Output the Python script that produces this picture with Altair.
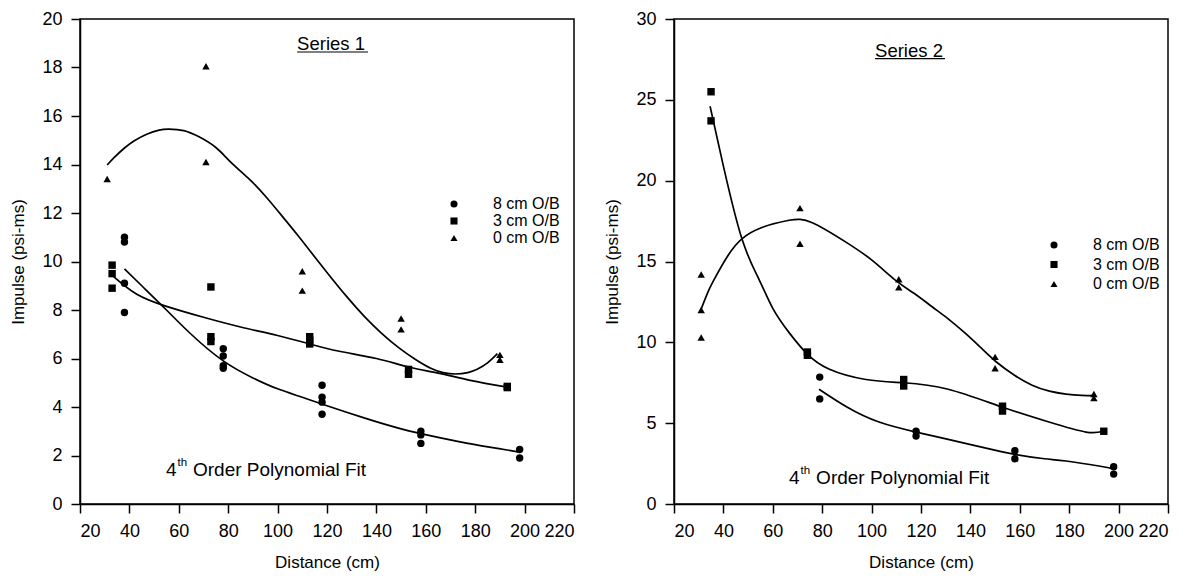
import altair as alt
import pandas as pd

FONT = "Liberation Sans"

SERIES = ["8 cm O/B", "3 cm O/B", "0 cm O/B"]
SHAPES = ["circle", "square", "triangle-up"]
X_TICKS = [20, 40, 60, 80, 100, 120, 140, 160, 180, 200, 220]

# ---------------- Series 1 (left panel) ----------------
L8_x = [38, 38, 38, 38, 78, 78, 78, 78, 118, 118, 118, 118, 158, 158, 158, 198, 198]
L8_y = [11.0, 10.8, 9.1, 7.9, 6.4, 6.1, 5.7, 5.6, 4.9, 4.4, 4.2, 3.7, 3.0, 2.85, 2.5, 2.25, 1.9]
L3_x = [33, 33, 33, 73, 73, 73, 113, 113, 113, 153, 153, 193, 193]
L3_y = [9.85, 9.5, 8.9, 8.95, 6.9, 6.7, 6.9, 6.75, 6.6, 5.55, 5.35, 4.85, 4.8]
L0_x = [31, 71, 71, 110, 110, 150, 150, 190, 190]
L0_y = [13.4, 18.05, 14.1, 9.6, 8.8, 7.65, 7.2, 6.15, 5.95]

L8_fit_x = [38, 45, 55, 65, 78, 90, 100, 110, 120, 135, 150, 165, 180, 198]
L8_fit_y = [9.7, 9.0, 8.0, 7.0, 5.9, 5.2, 4.75, 4.4, 4.05, 3.55, 3.1, 2.75, 2.45, 2.14]
L3_fit_x = [33, 43, 55, 70, 85, 100, 113, 125, 140, 153, 165, 178, 193]
L3_fit_y = [9.43, 8.65, 8.15, 7.7, 7.3, 6.95, 6.6, 6.3, 6.0, 5.65, 5.4, 5.1, 4.82]
L0_fit_x = [31, 34, 38, 42, 47, 52, 56, 62, 68, 75, 81, 88, 95, 102, 108, 113, 120,
            128, 135, 142, 149, 156, 162, 167, 172, 177, 181, 185, 189]
L0_fit_y = [13.98, 14.3, 14.68, 14.98, 15.25, 15.42, 15.46, 15.4, 15.15, 14.7, 14.1,
            13.45, 12.7, 11.85, 11.1, 10.45, 9.55, 8.55, 7.75, 7.05, 6.45, 5.95, 5.6,
            5.42, 5.36, 5.42, 5.57, 5.82, 6.2]

# ---------------- Series 2 (right panel) ----------------
R8_x = [79, 79, 118, 118, 158, 158, 198, 198]
R8_y = [7.85, 6.5, 4.5, 4.2, 3.3, 2.8, 2.3, 1.85]
R3_x = [35, 35, 74, 74, 113, 113, 153, 153, 194]
R3_y = [25.5, 23.7, 9.4, 9.2, 7.7, 7.3, 6.05, 5.75, 4.5]
R0_x = [31, 31, 31, 71, 71, 111, 111, 150, 150, 190, 190]
R0_y = [14.2, 12.0, 10.3, 18.3, 16.1, 13.9, 13.4, 9.1, 8.4, 6.8, 6.55]

R8_fit_x = [78.7, 90, 103, 118, 131, 145, 158, 170, 178.7, 192, 198.5]
R8_fit_y = [7.1, 6.0, 5.07, 4.45, 4.0, 3.5, 3.07, 2.8, 2.66, 2.35, 2.16]
R3_fit_x = [34.6, 40, 47.5, 54.4, 60, 66.6, 73.8, 82.7, 97.7, 113, 131, 152.8, 171.8, 186.8, 193.7]
R3_fit_y = [24.6, 20.9, 16.4, 13.9, 12.1, 10.6, 9.3, 8.35, 7.7, 7.5, 7.1, 6.0, 5.07, 4.45, 4.5]
R0_fit_x = [31, 34, 37, 42, 47.5, 55.6, 66.6, 76, 89.6, 100, 110, 117, 124.5, 131, 138,
            144, 150.4, 158, 165, 172, 178.7, 185, 190.4]
R0_fit_y = [12.06, 13.2, 14.1, 15.4, 16.4, 17.1, 17.55, 17.4, 16.2, 15.1, 13.8, 13.05,
            12.2, 11.45, 10.55, 9.7, 8.8, 7.95, 7.35, 6.98, 6.8, 6.72, 6.7]


def frame(xs, ys, label):
    return pd.DataFrame({"x": xs, "y": ys, "series": label})


def panel(pts, fits, ymax, ystep, series_title, st_xy, ul_x, ul_y, poly_xy,
          legend_xy, row_pad):
    xscale = alt.Scale(domain=[20, 220], nice=False, zero=False)
    yscale = alt.Scale(domain=[0, ymax], nice=False, zero=True)
    X = alt.X("x:Q", scale=xscale,
              axis=alt.Axis(values=X_TICKS, title="Distance (cm)"))
    Y = alt.Y("y:Q", scale=yscale,
              axis=alt.Axis(values=list(range(0, ymax + 1, ystep)),
                            title="Impulse (psi-ms)"))

    lines = alt.Chart(fits).mark_line(
        color="black", strokeWidth=1.7, interpolate="natural"
    ).encode(x=X, y=Y, detail="series:N")

    points = alt.Chart(pts).mark_point(
        filled=True, size=55, color="black", opacity=1
    ).encode(
        x=X, y=Y,
        shape=alt.Shape(
            "series:N",
            scale=alt.Scale(domain=SERIES, range=SHAPES),
            legend=alt.Legend(
                title=None, orient="none",
                legendX=legend_xy[0], legendY=legend_xy[1],
                labelFont=FONT, labelFontSize=16, labelColor="black",
                symbolFillColor="black", symbolStrokeColor="black",
                symbolSize=50, labelOffset=31, rowPadding=row_pad,
            ),
        ),
    )

    stitle = alt.Chart(pd.DataFrame({"x": [st_xy[0]], "y": [st_xy[1]],
                                     "t": [series_title]})).mark_text(
        align="left", baseline="middle", font=FONT, fontSize=18.5, color="black"
    ).encode(x=X, y=Y, text="t:N")

    underline = alt.Chart(pd.DataFrame({"x": [ul_x[0]], "x2": [ul_x[1]],
                                        "y": [ul_y]})).mark_rule(
        color="black", strokeWidth=1.2
    ).encode(x=X, x2="x2:Q", y=Y)

    pdf = pd.DataFrame({"x": [poly_xy[0]], "y": [poly_xy[1]]})
    p4 = alt.Chart(pdf).mark_text(
        align="left", baseline="middle", font=FONT, fontSize=19, color="black"
    ).encode(x=X, y=Y, text=alt.value("4"))
    pth = alt.Chart(pdf).mark_text(
        align="left", baseline="middle", font=FONT, fontSize=11.5, color="black",
        dx=11.5, dy=-7
    ).encode(x=X, y=Y, text=alt.value("th"))
    prest = alt.Chart(pdf).mark_text(
        align="left", baseline="middle", font=FONT, fontSize=19, color="black",
        dx=27
    ).encode(x=X, y=Y, text=alt.value("Order Polynomial Fit"))

    return alt.layer(lines, points, stitle, underline, p4, pth, prest).properties(
        width=494, height=485
    )


left_pts = pd.concat([frame(L8_x, L8_y, SERIES[0]), frame(L3_x, L3_y, SERIES[1]),
                      frame(L0_x, L0_y, SERIES[2])])
left_fit = pd.concat([frame(L8_fit_x, L8_fit_y, SERIES[0]),
                      frame(L3_fit_x, L3_fit_y, SERIES[1]),
                      frame(L0_fit_x, L0_fit_y, SERIES[2])])
right_pts = pd.concat([frame(R8_x, R8_y, SERIES[0]), frame(R3_x, R3_y, SERIES[1]),
                       frame(R0_x, R0_y, SERIES[2])])
right_fit = pd.concat([frame(R8_fit_x, R8_fit_y, SERIES[0]),
                       frame(R3_fit_x, R3_fit_y, SERIES[1]),
                       frame(R0_fit_x, R0_fit_y, SERIES[2])])

left = panel(left_pts, left_fit, 20, 2, "Series 1", (107.9, 18.97),
             (107.9, 136.6), 18.64, (54.8, 1.40), (366, 177), 1)
right = panel(right_pts, right_fit, 30, 5, "Series 2", (101.4, 28.0),
              (101.4, 129.7), 27.55, (66.6, 1.60), (372, 218), 3.5)

chart = alt.hconcat(left, right, spacing=27).resolve_scale(
    x="independent", y="independent", shape="independent"
).resolve_legend(shape="independent").properties(
    padding={"left": 1, "top": 1, "right": 2, "bottom": 2},
    background="white",
).configure_view(
    stroke="black", strokeWidth=1.5
).configure_axis(
    grid=False, domainColor="black", domainWidth=1.5, tickColor="black",
    tickWidth=1.5, tickSize=9, labelPadding=9, labelColor="black",
    labelFont=FONT, labelFontSize=18, titleFont=FONT, titleFontSize=17,
    titleFontWeight="normal", titleColor="black", titlePadding=14
)

chart.save("out.html", embed_options={"renderer": "svg", "actions": False})
